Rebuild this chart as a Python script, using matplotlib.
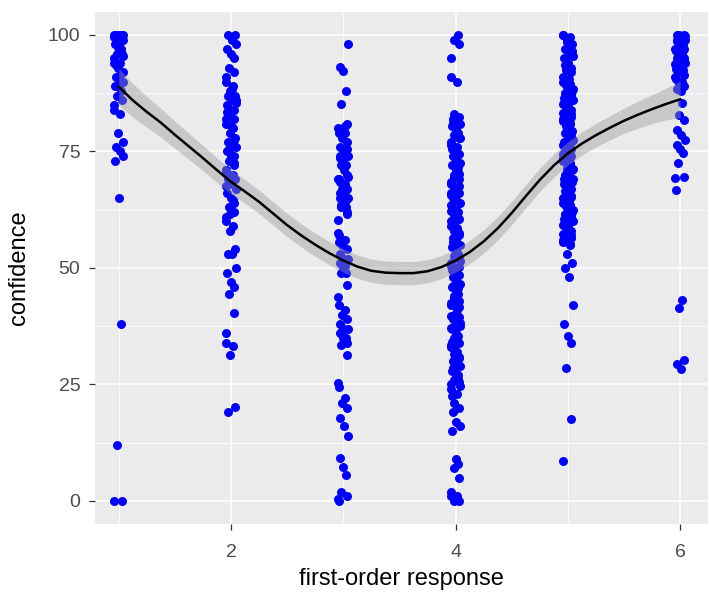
import matplotlib
matplotlib.use("Agg")
import matplotlib.pyplot as plt
import numpy as np

# ---------------- data ----------------
responses = [1, 2, 3, 4, 5, 6]

conf_1 = [100, 100, 100, 100, 100, 99, 99, 98, 97, 97, 96, 96, 95, 94, 94, 93, 92, 91,
          90, 90, 89, 89, 88, 87, 86, 85, 84, 83, 79, 77, 76, 75, 74, 73, 65, 38, 12, 0, 0,
          99.5, 98.5, 97.5, 95.5, 93.5, 91.5]

conf_2 = [100, 100, 99, 98, 97, 96, 95, 93, 92, 91, 90,
          89, 88, 87, 87, 86, 86, 85, 84, 84, 83, 82, 82, 81,
          80, 79, 78, 77, 76, 76, 75, 74, 74, 73, 72, 71, 71, 70, 70, 69,
          69, 68, 67, 66, 65, 64, 63, 62, 61, 60, 59, 58,
          54, 53, 53, 50, 49, 47, 46, 44.5, 40.3, 36, 34, 33.2, 31.3, 20.2, 19.2,
          88.5, 85.5, 83.5, 80.5, 77.5, 75.5, 72.5, 70.5, 67.5, 64.5, 61.5]

conf_3 = [98, 93.2, 92.3, 88, 85.2, 81, 80, 79, 79, 78, 77, 76, 75, 74, 74, 73, 72, 72,
          70, 69, 69, 68, 67, 67, 66, 66, 65, 65, 64, 63, 63, 62, 60.3,
          57, 56, 55, 54, 53, 52, 52, 51, 50, 49, 49, 46.3, 43.8, 42, 41, 40, 39,
          38, 37, 37, 36, 35, 35, 33.5, 31.3, 25.3, 24.5, 22, 21, 20, 17.8, 16, 14,
          9.2, 7.3, 5.6, 2, 1, 0.5, 0,
          80.5, 78.5, 75.5, 73.5, 71, 69.5, 68.5, 66.5, 64.5, 63.5, 61.5,
          57.5, 55.5, 50.5, 36.5, 34]

conf_4 = [100, 99, 98, 95, 91, 90,
          83, 82.5, 82, 81.5, 81, 80.5, 80, 79, 78.5, 78, 77, 76.5, 76, 75, 74.5, 74, 73,
          72.5, 72, 71, 70.5, 70, 69, 68.5, 68, 67, 66.5, 66, 65, 64.5, 64, 63, 62.5,
          62, 61, 60.5, 60, 59, 58.5, 58, 57, 56.5, 56, 55, 54.5, 54, 53, 52.5,
          52, 51, 50.5, 50, 49, 48.5, 48,
          47, 46.5, 46, 45, 44.5, 44, 43, 42.5, 42, 41,
          40, 39.5, 39, 38, 37.5, 37, 36, 35.5, 35,
          34, 33.5, 33, 32, 31.5, 31, 30, 29.5, 29, 28, 27.5, 27, 26, 25.5, 25, 24, 23,
          21, 20, 19, 17, 16, 15,
          9, 8, 7, 5,
          2, 1, 1, 0, 0,
          81.2, 79.6, 77.8, 75.6, 73.6, 71.6, 69.6, 67.6, 65.6, 63.6, 61.6, 59.6, 57.6,
          55.6, 53.6, 51.6, 49.6, 47.6, 45.6, 43.6, 41.6, 39.6, 37.2, 34.6, 32.6, 30.6,
          28.6, 26.6, 24.6, 22.5,
          82.2, 78.2, 74.2, 70.2, 66.2, 62.2, 58.2, 54.2, 50.2, 46.2, 42.2, 38.2, 34.2,
          30.2, 26.2]

conf_5 = [100, 100, 99.5, 99, 98, 97, 96, 95.5, 95, 94, 93, 92.5, 92, 91, 90, 89.5, 89,
          88, 87.5, 87, 86, 85.5, 85, 84, 83.5, 83, 82, 81.5, 81, 80, 79.5, 79, 78, 77.5,
          77, 76, 75.5, 75, 74, 73.5, 73, 72, 71.5, 71, 70, 69.5, 69, 68, 67.5, 67, 66,
          65.5, 65, 64, 63.5, 63, 62, 61.5, 61, 60, 59.5, 59, 58, 57.5, 57, 56, 55.5, 55,
          98.5, 96.5, 93.5, 90.5, 88.5, 86.5, 84.5, 82.5, 80.5, 78.5, 76.5, 74.5, 72.5,
          70.5, 68.5, 66.5, 64.5, 62.5, 60.5, 58.5, 56.5,
          89.2, 87.2, 85.2, 83.2, 81.2, 79.2, 77.2, 75.2, 73.2, 71.2, 69.2, 67.2, 65.2,
          63.2, 61.2, 59.2, 57.2, 55.2,
          53, 51, 50, 48, 42, 38, 35.5, 34, 28.5, 17.5, 8.5]

conf_6 = [100, 100, 100, 99.5, 99, 99, 98.5, 98, 97.5, 97, 97, 96.5, 96, 95.5, 95, 95,
          94.5, 94, 93.5, 93, 92.5, 92, 91.5, 91, 90.5, 90, 89.5, 89, 88.5, 88,
          99.8, 98.8, 97.8, 96.8, 95.8, 94.8, 93.8, 92.8,
          85.4, 82.8, 81.8, 79.6, 78.5, 77.5, 76.4, 75.5, 74.7, 72.5, 69.5, 69.3, 66.7,
          43.1, 41.4, 30.2, 29.3, 28.3]

# loess smooth
smooth_x = [1.0, 1.125, 1.25, 1.375, 1.5, 1.625, 1.75, 1.875, 2.0, 2.125, 2.25, 2.375,
            2.5, 2.625, 2.75, 2.875, 3.0, 3.125, 3.25, 3.375, 3.5, 3.625, 3.75, 3.875,
            4.0, 4.125, 4.25, 4.375, 4.5, 4.625, 4.75, 4.875, 5.0, 5.125, 5.25, 5.375,
            5.5, 5.625, 5.75, 5.875, 6.0]
smooth_y = [88.9, 86.0, 83.5, 81.2, 78.6, 76.1, 73.6, 71.0, 68.5, 66.4, 64.2, 61.7,
            59.2, 57.0, 55.0, 53.2, 51.6, 50.3, 49.4, 49.0, 48.9, 48.9, 49.3, 50.2,
            51.6, 53.4, 55.7, 58.5, 61.8, 65.4, 68.9, 72.0, 74.6, 76.7, 78.5, 80.1,
            81.6, 82.9, 84.1, 85.2, 86.2]
smooth_se = [4.0, 3.6, 3.3, 3.1, 2.9, 2.8, 2.7, 2.65, 2.6, 2.55, 2.5, 2.5,
             2.5, 2.5, 2.5, 2.5, 2.5, 2.5, 2.5, 2.5, 2.5, 2.5, 2.5, 2.5,
             2.5, 2.5, 2.5, 2.5, 2.5, 2.5, 2.5, 2.5, 2.5, 2.5, 2.5, 2.6,
             2.7, 2.9, 3.1, 3.4, 3.9]

groups = [conf_1, conf_2, conf_3, conf_4, conf_5, conf_6]

# fixed jitter pattern (horizontal spread of the points)
JIT = [-0.04, 0.015, -0.01, 0.035, -0.025, 0.008, 0.042, -0.032, 0.0, 0.024, -0.017, 0.03, -0.044]

# ---------------- plot ----------------
plt.rcParams['font.family'] = ['Liberation Sans', 'DejaVu Sans']

fig = plt.figure(figsize=(7.09, 5.99), dpi=100)
ax = fig.add_axes([95 / 709, 1 - 524 / 599, (708 - 95) / 709, (524 - 11.7) / 599])
ax.set_facecolor('#EBEBEB')

for gi, (r, vals) in enumerate(zip(responses, groups)):
    xs = [r + JIT[(i + 3 * gi) % len(JIT)] for i in range(len(vals))]
    ax.scatter(xs, vals, s=42, color='#0000FF', linewidths=0, zorder=2)

sx = np.array(smooth_x)
sy = np.array(smooth_y)
se = np.array(smooth_se)
ax.fill_between(sx, sy - se, sy + se, color='#999999', alpha=0.42, linewidth=0, zorder=3)
ax.plot(sx, sy, color='black', lw=1.8, zorder=4)

ax.set_xlim(0.789, 6.248)
ax.set_ylim(-4.94, 105.0)

ax.set_xticks([2, 4, 6])
ax.set_xticks([1, 3, 5], minor=True)
ax.set_yticks([0, 25, 50, 75, 100])
ax.set_yticks([12.5, 37.5, 62.5, 87.5], minor=True)

ax.grid(which='major', color='white', lw=1.1, zorder=0)
ax.grid(which='minor', color='white', lw=0.55, zorder=0)
ax.set_axisbelow(True)

for s in ax.spines.values():
    s.set_visible(False)

ax.tick_params(which='major', length=4.5, width=0.9, color='#333333',
               labelcolor='#4D4D4D', labelsize=14)
ax.tick_params(axis='x', which='major', pad=10)
ax.tick_params(axis='y', which='major', pad=6)
ax.tick_params(which='minor', length=0)

ax.set_xlabel('first-order response', fontsize=17, color='black', labelpad=5)
ax.set_ylabel('confidence', fontsize=17, color='black', labelpad=13)

fig.savefig('out.png', dpi=100)
